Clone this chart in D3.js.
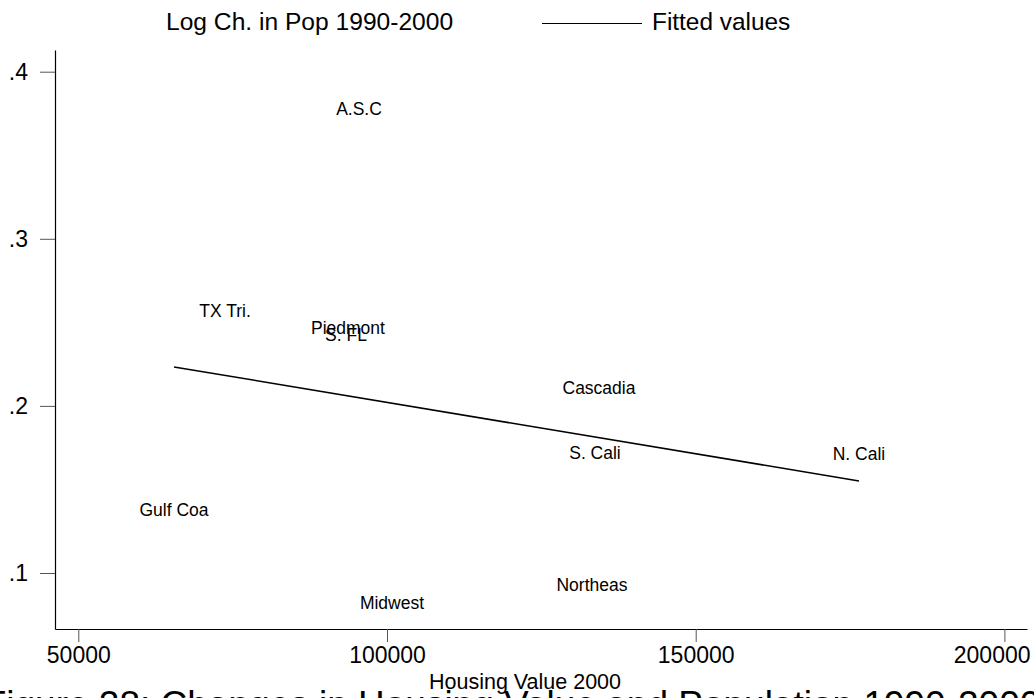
<!DOCTYPE html>
<html>
<head>
<meta charset="utf-8">
<script src="https://cdn.jsdelivr.net/npm/d3@7"></script>
<style>
  html, body { margin: 0; padding: 0; background: #fff; overflow: hidden; }
  svg { display: block; font-family: "Liberation Sans", Arial, Helvetica, sans-serif; }
</style>
</head>
<body>
<svg id="chart" width="1034" height="698"></svg>
<script>
// ---- data ----
const regions = ["A.S.C", "TX Tri.", "Piedmont", "S. FL", "Cascadia", "S. Cali", "N. Cali", "Gulf Coa", "Northeas", "Midwest"];
const housingValue = [95465, 73760, 93683, 93359, 134337, 133689, 176450, 65500, 133203, 100810];
const logChPop = [0.3777, 0.2568, 0.2466, 0.2424, 0.2107, 0.1718, 0.1712, 0.1377, 0.0928, 0.0820];
const fittedX = [65500, 176450];
const fittedY = [0.2233, 0.1551];
const xTicks = [50000, 100000, 150000, 200000];
const xTickLabels = ["50000", "100000", "150000", "200000"];
const yTicks = [0.1, 0.2, 0.3, 0.4];
const yTickLabels = [".1", ".2", ".3", ".4"];
const legendLabels = ["Log Ch. in Pop 1990-2000", "Fitted values"];
const xTitle = "Housing Value 2000";
const caption = "Figure 28: Changes in Housing Value and Population 1990-2000";

// ---- layout ----
const W = 1034;
const svg = d3.select("#chart");
const plotLeft = 55, plotRight = 1027, plotTop = 50, plotBottom = 629;

const x = d3.scaleLinear()
  .domain([50000 - 23.3 / 308.7 * 50000, 50000 + 948.7 / 308.7 * 50000])
  .range([plotLeft, plotRight]);
const y = d3.scaleLinear()
  .domain([0.1 - 56 / 1671, 0.4 + 21.7 / 1671])
  .range([plotBottom, plotTop]);

// axes
const xAxis = d3.axisBottom(x)
  .tickValues(xTicks)
  .tickFormat((d, i) => xTickLabels[i])
  .tickSize(13).tickSizeOuter(0).tickPadding(5);
const gx = svg.append("g").attr("transform", `translate(0,${plotBottom})`).call(xAxis);

const yAxis = d3.axisLeft(y)
  .tickValues(yTicks)
  .tickFormat((d, i) => yTickLabels[i])
  .tickSize(15).tickSizeOuter(0).tickPadding(12);
const gy = svg.append("g").attr("transform", `translate(${plotLeft},0)`).call(yAxis);

[gx, gy].forEach(g => {
  g.select(".domain").attr("stroke", "#000").attr("stroke-width", 1.2);
  g.selectAll(".tick line").attr("stroke", "#555").attr("stroke-width", 1);
  g.selectAll(".tick text")
    .attr("fill", "#000")
    .style("font-size", "23px")
    .style("font-family", "\"Liberation Sans\", Arial, Helvetica, sans-serif");
});

// keep the last x tick label inside the picture, as in the reference
gx.selectAll(".tick text").each(function () {
  const t = d3.select(this);
  const bb = this.getBBox();
  const tx = x(t.datum());
  const overflow = tx + bb.x + bb.width - (W - 4);
  if (overflow > 0) t.attr("x", -overflow);
});

// fitted line
const fitted = fittedX.map((v, i) => [v, fittedY[i]]);
svg.append("path")
  .datum(fitted)
  .attr("fill", "none")
  .attr("stroke", "#000")
  .attr("stroke-width", 1.5)
  .attr("d", d3.line().x(d => x(d[0])).y(d => y(d[1])));

// marker labels
svg.append("g").selectAll("text")
  .data(regions)
  .join("text")
  .attr("x", (d, i) => x(housingValue[i]))
  .attr("y", (d, i) => y(logChPop[i]))
  .attr("dy", "0.36em")
  .attr("text-anchor", "middle")
  .style("font-size", "17.5px")
  .attr("fill", "#000")
  .text(d => d);

// legend
const lg = svg.append("g");
lg.append("text").attr("x", 166).attr("y", 29.5).style("font-size", "24.6px").text(legendLabels[0]);
lg.append("line").attr("x1", 542).attr("x2", 642).attr("y1", 23.5).attr("y2", 23.5)
  .attr("stroke", "#000").attr("stroke-width", 1.2);
lg.append("text").attr("x", 652).attr("y", 29.5).style("font-size", "24.4px").text(legendLabels[1]);

// x title
svg.append("text").attr("x", 525).attr("y", 689).attr("text-anchor", "middle")
  .style("font-size", "21.5px").text(xTitle);

// caption (cut off at bottom, as in the reference)
svg.append("text").attr("x", 512).attr("y", 717).attr("text-anchor", "middle")
  .style("font-size", "37px").text(caption);
</script>
</body>
</html>
